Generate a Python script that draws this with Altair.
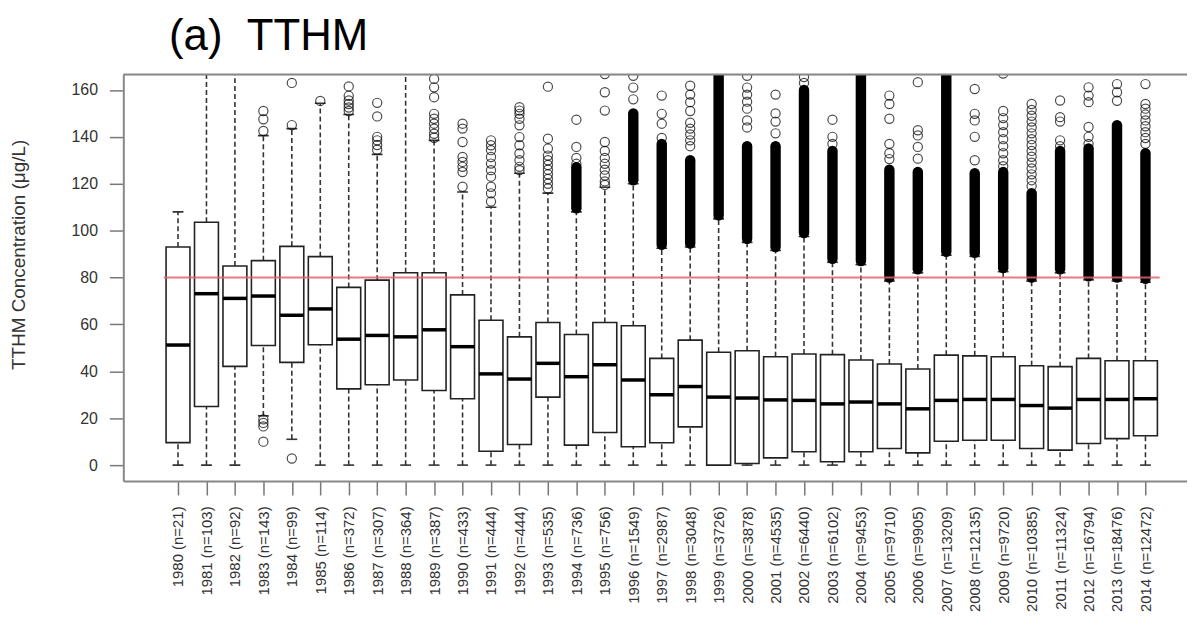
import altair as alt
import pandas as pd

YEARS = list(range(1980, 2015))
N_COUNTS = [21, 103, 92, 143, 99, 114, 372, 307, 364, 387, 433, 444, 444, 535, 736,
            756, 1549, 2987, 3048, 3726, 3878, 4535, 6440, 6102, 9453, 9710, 9905,
            13209, 12135, 9720, 10385, 11324, 16794, 18476, 12472]

WHISK_LO = [0, 0, 0, 21, 11, 0, 0, 0, 0, 0, 0, 0, 0, 0, 0, 0, 0, 0, 0, 0, 0, 0, 0, 0,
            0, 0, 0, 0, 0, 0, 0, 0, 0, 0, 0]
Q1 = [9.6, 25.0, 42.1, 51.0, 43.8, 51.3, 32.5, 34.3, 36.3, 31.8, 28.3, 5.9, 8.8, 29.0,
      8.5, 13.9, 7.8, 9.5, 16.3, 0.0, 0.7, 3.1, 5.7, 1.4, 5.7, 7.1, 5.2, 10.2, 10.6,
      10.6, 7.1, 6.4, 9.2, 11.3, 12.5]
MEDIAN = [51.2, 73.1, 71.1, 72.1, 63.9, 66.6, 53.7, 55.3, 54.7, 57.7, 50.5, 38.9, 36.7,
          43.4, 37.7, 42.8, 36.3, 30.0, 33.5, 29.0, 28.6, 27.8, 27.6, 26.1, 26.9, 26.1,
          24.0, 27.6, 28.0, 28.0, 25.4, 24.3, 28.0, 28.0, 28.3]
Q3 = [93.0, 103.6, 84.9, 87.2, 93.3, 88.9, 75.8, 78.9, 82.0, 82.0, 72.6, 61.8, 54.7,
      60.8, 55.7, 60.8, 59.4, 45.5, 53.3, 48.1, 48.8, 46.2, 47.4, 47.1, 44.8, 43.1,
      41.0, 46.9, 46.6, 46.2, 42.4, 42.0, 45.5, 44.5, 44.5]
WHISK_HI = [108, 175, 175, 140.5, 143.5, 154.3, 149.5, 132.5, 175, 138.5, 116.5, 110,
            124.5, 116, 108, 118.5, 120, 92.5, 93, 105, 95, 91.5, 97.5, 86.5, 85.5, 78.5,
            82, 89.5, 89, 82.5, 78.5, 82, 79, 78.5, 78]

# dense runs of overlapping outliers (None = no dense run)
DENSE_LO = [None] * 14 + [109.5, None, 121.5, 94, 94.5, 106.5, 96.5, 93, 99, 88, 87,
                          80, 83.5, 91, 90.5, 84, 80, 83.5, 80.5, 80, 79.5]
DENSE_HI = [None] * 14 + [127, None, 150, 137, 130, 175, 136, 136, 160, 134, 175,
                          126, 125, 175, 124.5, 125, 116, 134, 135, 145, 133]

OUTLIERS = [
    [],
    [],
    [],
    [142.5, 147.5, 151, 19.5, 18, 16.5, 10],
    [145, 163, 2.8],
    [155.3],
    [151, 152.5, 154, 155.5, 157.5, 161.5],
    [134.5, 136.5, 138.5, 140, 148.7, 154.5],
    [],
    [139.6, 141.3, 143.5, 145.6, 147.7, 149.8, 156.9, 161.1, 164.7],
    [118.7, 125, 127.2, 129.3, 131.4, 137.8, 143.5, 145.6],
    [112.4, 115.9, 118.7, 123, 125.8, 128.6, 131.4, 134.3, 136.4, 138.5],
    [125.8, 127.2, 130, 132.9, 136.4, 139.9, 144.9, 147.7, 149.8, 151.2, 152.6],
    [118, 120, 122, 124, 126, 128, 130, 132, 135, 139.2, 161.4],
    [128.5, 131, 135.7, 147.3],
    [119.5, 121, 123.5, 126, 128.5, 131, 134, 137.8, 151.2, 159, 166.8],
    [156, 161, 166],
    [139.5, 145.6, 149.8, 157.6],
    [136, 138.5, 141, 143.5, 146, 151, 154.8, 158, 161.8],
    [],
    [144, 147, 152, 155, 158, 161, 166],
    [141.5, 146.5, 150, 158],
    [163, 165.5],
    [137, 140, 147.3],
    [],
    [130.5, 133, 137, 147.7, 154, 157.6],
    [130.7, 135.7, 140.6, 142.8, 163.3],
    [],
    [130, 140, 147, 149.8, 160.4],
    [127.5, 130, 133, 136, 139, 142, 145, 148, 151, 167],
    [119, 121.5, 124, 126.5, 129, 131.5, 134, 136.5, 139, 141.5, 144, 146.5,
     149, 151.5, 154],
    [136, 138.5, 146.5, 148.4, 155.5],
    [137, 140, 144.2, 154.8, 157.6, 161.1],
    [155.4, 159, 162.5],
    [137, 139.5, 142, 144.5, 147, 149.5, 152, 154, 162.5],
]

LIMIT = 80
TITLE = "(a)\u00a0\u00a0TTHM"
TICK_LABELS = [f"{y} (n={n})" for y, n in zip(YEARS, N_COUNTS)]
Y_TICKS = [0, 20, 40, 60, 80, 100, 120, 140, 160]

# ---------------- tables ----------------
idx = list(range(1, len(YEARS) + 1))
box_df = pd.DataFrame({"i": idx, "lo": WHISK_LO, "q1": Q1, "med": MEDIAN,
                       "q3": Q3, "hi": WHISK_HI})
dense_df = pd.DataFrame({"i": idx, "dlo": DENSE_LO, "dhi": DENSE_HI}).dropna()
out_df = pd.DataFrame([{"i": i, "v": v} for i, vals in zip(idx, OUTLIERS) for v in vals])
lim_df = pd.DataFrame({"y": [LIMIT], "xa": [idx[0] - 0.5], "xb": [idx[-1] + 0.5]})
title_df = pd.DataFrame({"t": [TITLE]})

W, H = 1070, 409
FONT = "Liberation Sans"
XS = alt.Scale(domain=[-0.922, 36.46], nice=False, zero=False)
YS = alt.Scale(domain=[-6.8, 166.6], nice=False, zero=False)

label_expr = "[" + ",".join(f"'{s}'" for s in TICK_LABELS) + "][datum.value - 1]"

X_AX = alt.Axis(values=idx, labelExpr=label_expr, labelAngle=-90, labelAlign="right",
                labelBaseline="middle", labelFont=FONT, labelFontSize=15,
                labelColor="#333", labelPadding=11, labelOverlap=False,
                tickSize=14, tickColor="#777", tickWidth=1.5, domainColor="#888",
                domainWidth=2, grid=False, title=None)
Y_AX = alt.Axis(values=Y_TICKS, labelFont=FONT, labelFontSize=16, labelColor="#333",
                labelPadding=12, tickSize=14, tickColor="#777", tickWidth=1.5,
                domainColor="#888", domainWidth=2, grid=False,
                title="TTHM Concentration (μg/L)", titleFont=FONT, titleFontSize=19,
                titleFontWeight="normal", titleColor="#333", titleAngle=270,
                titleAlign="center", titleBaseline="alphabetic", titleX=-99, titleY=181)


def X(f):
    return alt.X(f, type="quantitative", scale=XS, axis=X_AX)


def Y(f):
    return alt.Y(f, type="quantitative", scale=YS, axis=Y_AX)


base = alt.Chart(box_df).transform_calculate(
    xa="datum.i - 0.42", xb="datum.i + 0.42",
    sa="datum.i - 0.19", sb="datum.i + 0.19")

dash = dict(strokeDash=[5, 3], color="#333", strokeWidth=1.6, clip=True)
whisk_up = base.mark_rule(**dash).encode(x=X("i"), y=Y("q3"), y2="hi")
whisk_dn = base.mark_rule(**dash).encode(x=X("i"), y=Y("lo"), y2="q1")
staple_hi = base.mark_rule(color="#333", strokeWidth=1.6, clip=True).encode(
    x=X("sa"), x2="sb", y=Y("hi"))
staple_lo = base.mark_rule(color="#333", strokeWidth=1.6, clip=True).encode(
    x=X("sa"), x2="sb", y=Y("lo"))
boxes = base.mark_rect(fill="white", stroke="#222", strokeWidth=1.6).encode(
    x=X("xa"), x2="xb", y=Y("q1"), y2="q3")
medians = base.mark_rule(color="black", strokeWidth=3.5).encode(
    x=X("xa"), x2="xb", y=Y("med"))
dense = alt.Chart(dense_df).mark_rule(color="black", strokeWidth=10.5,
                                      strokeCap="round", clip=True).encode(
    x=X("i"), y=Y("dlo"), y2="dhi")
points = alt.Chart(out_df).mark_point(shape="circle", filled=False, color="black",
                                      size=85, strokeWidth=1.2, clip=True).encode(
    x=X("i"), y=Y("v"))
limit = alt.Chart(lim_df).mark_rule(color="#e06570", strokeWidth=2, opacity=0.85).encode(
    x=X("xa"), x2="xb", y=Y("y"))
top_frame = alt.Chart(lim_df).mark_rule(color="#888", strokeWidth=2).encode(
    x=alt.value(0), x2=alt.value(W), y=alt.value(0))
title = alt.Chart(title_df).mark_text(align="left", baseline="alphabetic", font=FONT,
                                      fontSize=44, color="black").encode(
    text="t:N", x=alt.value(46), y=alt.value(-25))

chart = alt.layer(whisk_up, whisk_dn, staple_hi, staple_lo, boxes, medians, dense,
                  points, limit, top_frame, title).properties(
    width=W, height=H,
    autosize=alt.AutoSizeParams(type="none"),
    padding={"left": 116, "top": 65, "right": 0, "bottom": 150},
).configure_view(stroke=None).configure(background="white")

chart.save("out.html", embed_options={"renderer": "svg", "actions": False})
